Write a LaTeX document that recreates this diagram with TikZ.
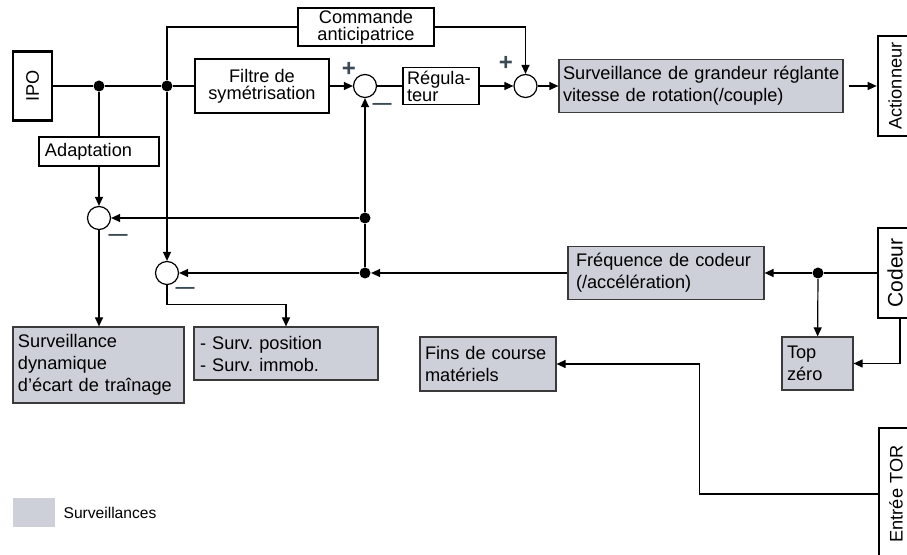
\documentclass[tikz,border=0pt]{standalone}
\usepackage{fontspec}
\setmainfont{Liberation Sans}
\usetikzlibrary{arrows.meta}

\definecolor{survgray}{HTML}{CDD0D8}
\definecolor{edgegray}{HTML}{3A3A3A}
\definecolor{signcol}{HTML}{3B4B55}

\tikzset{
  plainbox/.style={draw, line width=0.6pt, fill=white, inner sep=0pt},
  survbox/.style={draw=edgegray, line width=0.6pt, fill=survgray, align=left, inner ysep=0pt},
  devbox/.style={draw, line width=1.3pt, fill=white, inner sep=0pt, minimum width=17pt},
  sumpt/.style={circle, draw, line width=0.6pt, fill=white, minimum size=11.5pt, inner sep=0pt},
  jdot/.style={circle, fill, minimum size=5.5pt, inner sep=0pt},
  tightfont/.style={font=\fontsize{9.1}{8.4}\selectfont},
  plussign/.style={text=signcol, inner sep=0pt, font=\bfseries\fontsize{12}{12}\selectfont},
  minussign/.style={text=signcol, inner sep=0pt, font=\bfseries\fontsize{9.5}{10}\selectfont},
}

\begin{document}
\begin{tikzpicture}[x=0.5pt, y=-0.5pt, line width=0.6pt,
    >={Triangle[length=4.5pt,width=4pt]}, font=\fontsize{9.1}{11}\selectfont]
  \useasboundingbox (0,0) rectangle (907,555);

  % inputs and outputs
  \node[devbox, minimum width=19.5pt, minimum height=34.5pt] (ipo) at (32.5,86) {\rotatebox{90}{IPO}};
  \node[devbox, minimum height=50pt] (act) at (895,86) {\rotatebox{90}{Actionneur}};
  \node[devbox, minimum height=45pt, font=\fontsize{10.5}{12}\selectfont] (codeur) at (895,273) {\rotatebox{90}{Codeur}};
  \node[devbox, minimum height=66pt] (tor) at (896,494) {\rotatebox{90}{Entrée TOR}};

  % control blocks
  \node[plainbox, tightfont, align=center, minimum width=67pt, minimum height=27pt] (filtre) at (262,86) {Filtre de\\symétrisation};
  \node[plainbox, tightfont, align=center, minimum width=68pt, minimum height=19pt] (cmd) at (366,27) {Commande\\anticipatrice};
  \node[plainbox, tightfont, align=left, inner xsep=2pt, text width=34pt, minimum height=18.5pt] (regul) at (441,86) {Régula-\\teur};
  \node[plainbox, align=left, inner xsep=3pt, text width=54pt, minimum height=14.5pt] (adapt) at (99,151.5) {Adaptation};

  % monitoring blocks
  \node[survbox, inner xsep=2pt, text width=138pt, minimum height=26.5pt] (survgr) at (701,86) {\mbox{Surveillance de grandeur réglante}\\vitesse de rotation(/couple)};
  \node[survbox, inner xsep=4pt, text width=90pt, minimum height=26.5pt] (freq) at (666,273) {Fréquence de codeur\\(/accélération)};
  \node[survbox, inner xsep=2.5pt, text width=80.5pt, minimum height=38pt] (survdyn) at (98.5,365) {Surveillance\\dynamique\\d'écart de traînage};
  \node[survbox, inner xsep=3pt, text width=86pt, minimum height=26.5pt] (survpos) at (286,353.5) {- Surv.\ position\\- Surv.\ immob.};
  \node[survbox, inner xsep=2.5pt, text width=30.5pt, minimum height=26.5pt] (top) at (817.5,363.5) {Top\\zéro};
  \node[survbox, inner xsep=2.5pt, text width=63pt, minimum height=27pt] (fins) at (488,364) {Fins de course\\matériels};

  % summing points and branch dots
  \node[sumpt] (s1) at (365,86) {};
  \node[sumpt] (s2) at (525.5,86) {};
  \node[sumpt] (s3) at (99,218) {};
  \node[sumpt] (s4) at (167,273) {};
  \node[jdot] (d1) at (99,86) {};
  \node[jdot] (d2) at (167,86) {};
  \node[jdot] (d3) at (365,218) {};
  \node[jdot] (d4) at (365,273) {};
  \node[jdot] (d5) at (818,273) {};

  % signs
  \node[plussign] (p1) at (349,69) {+};
  \node[plussign] (p2) at (506,63) {+};
  \node[minussign] (m1) at (382,106) {—};
  \node[minussign] (m3) at (118,237) {—};
  \node[minussign] (m4) at (185,290) {—};

  % forward path
  \draw (ipo) -- (d1) -- (d2) -- (filtre);
  \draw[->] (filtre) -- (s1);
  \draw (s1) -- (regul);
  \draw[->] (regul) -- (s2);
  \draw[->] (s2) -- (survgr);
  \draw[->] ([xshift=2.5pt]survgr.east) -- (act.west);
  \draw (d2) |- (cmd);
  \draw[->] (cmd) -| (s2);

  % feedback from the encoder
  \draw (codeur.west) -- (d5);
  \draw[->] (d5) -- (freq);
  \draw[->] (d5) -- (top);
  \draw[->] ([xshift=2.5pt]codeur.south) |- (top.east);
  \draw[->] (freq) -- (d4);
  \draw[->] (d4) -- (d3) -- (s1);
  \draw[->] (d3) -- (s3);
  \draw[->] (d4) -- (s4);

  % monitoring branches
  \draw (d1) -- (adapt);
  \draw[->] (adapt) -- (s3);
  \draw[->] (d2) -- (s4);
  \draw[->] (s3) -- (survdyn.north -| s3);
  \draw[->] (s4.south) -- ++(0,19.5) -| (survpos.north);
  \draw[->] (tor.west) -- ++(-178,0) |- (fins.east);

  % legend
  \node[fill=survgray, minimum width=21pt, minimum height=14.5pt, inner sep=0pt] (legsq) at (34,512.5) {};
  \node[anchor=west, inner sep=0pt, font=\fontsize{7.8}{9}\selectfont] (legtxt) at (63,512.5) {Surveillances};
\end{tikzpicture}
\end{document}
